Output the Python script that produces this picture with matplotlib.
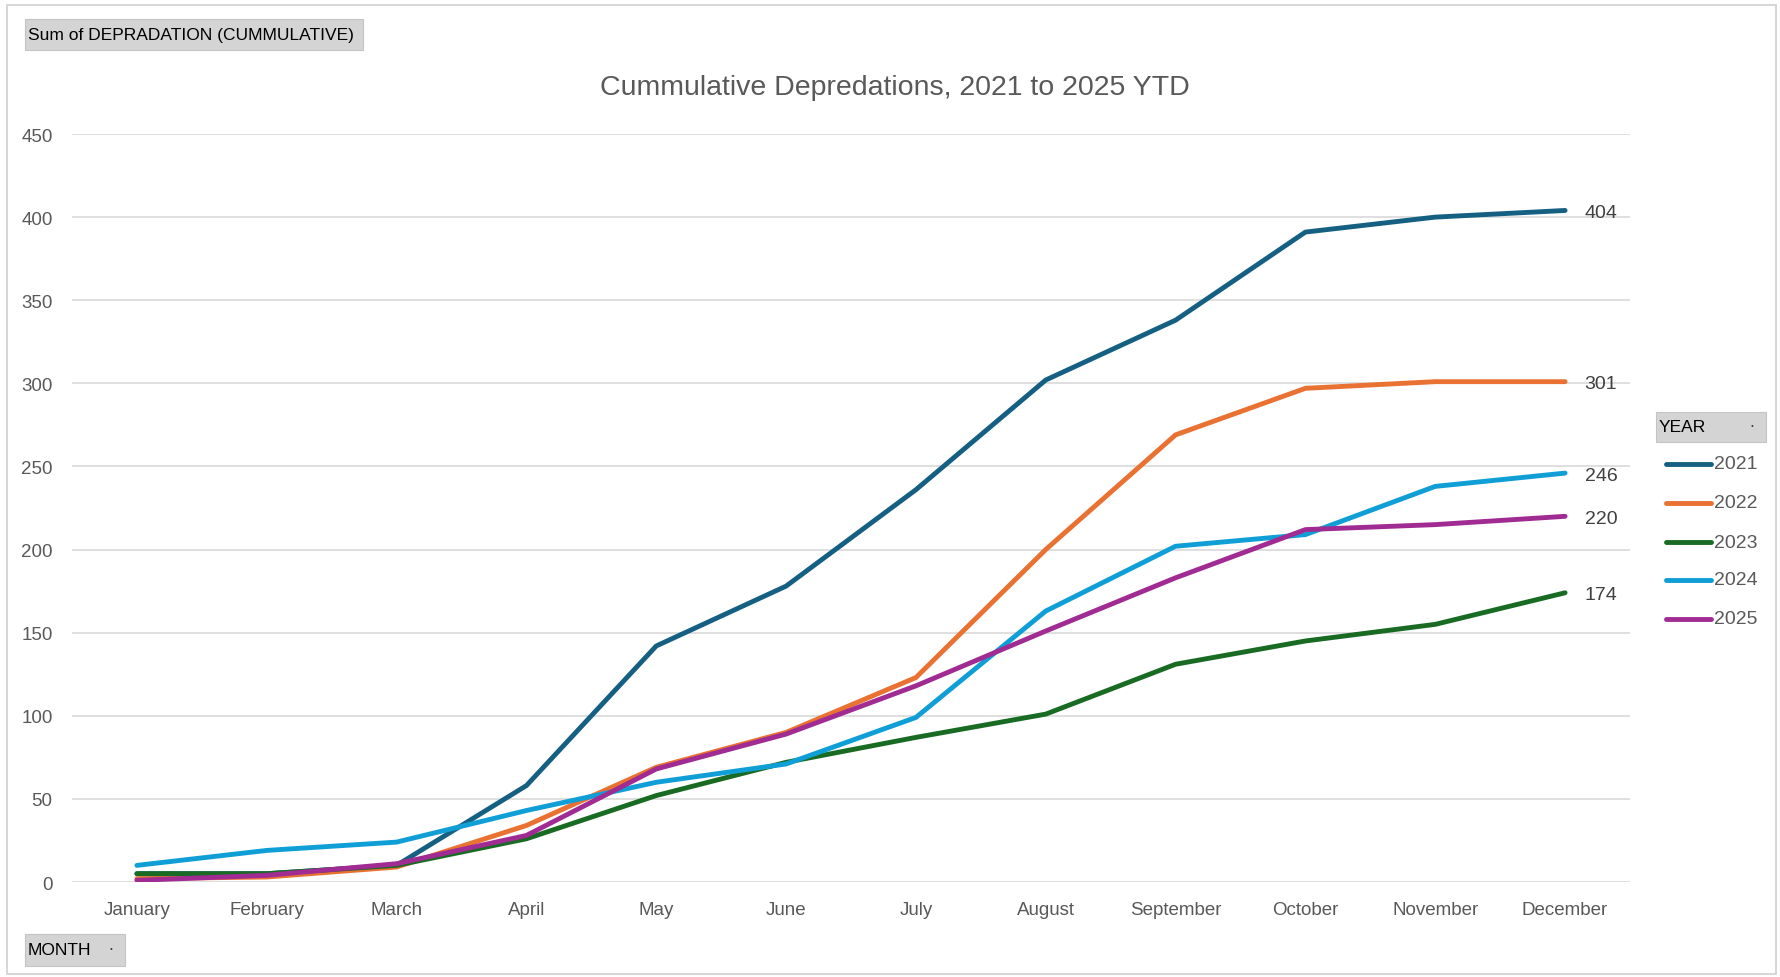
import matplotlib.pyplot as plt
from matplotlib.patches import Rectangle

months = ["January", "February", "March", "April", "May", "June", "July",
          "August", "September", "October", "November", "December"]
years = ["2021", "2022", "2023", "2024", "2025"]

y2021 = [5, 5, 10, 58, 142, 178, 236, 302, 338, 391, 400, 404]
y2022 = [2, 3, 9, 34, 69, 90, 123, 200, 269, 297, 301, 301]
y2023 = [5, 5, 10, 26, 52, 72, 87, 101, 131, 145, 155, 174]
y2024 = [10, 19, 24, 43, 60, 71, 99, 163, 202, 209, 238, 246]
y2025 = [1, 4, 11, 28, 68, 89, 118, 151, 183, 212, 215, 220]
series = [y2021, y2022, y2023, y2024, y2025]
colors = ["#156082", "#E97132", "#196B24", "#0F9ED5", "#A02B93"]

W, H = 1781, 978
fig = plt.figure(figsize=(W / 100, H / 100), dpi=100)
ax = fig.add_axes([72 / W, 1 - 883 / H, (1630 - 72) / W, (883 - 135) / H])

x = range(len(months))
for vals, c in zip(series, colors):
    ax.plot(x, vals, color=c, lw=3.5, solid_capstyle="round", solid_joinstyle="round", zorder=3)
    ax.annotate(str(vals[-1]), (11, vals[-1]), xytext=(14, -1.5), textcoords="offset points",
                va="center", ha="left", fontsize=14, color="#404040", family="Liberation Sans")

ax.set_xlim(-0.5, 11.5)
ax.set_ylim(0, 450)
ax.set_yticks(range(0, 451, 50))
ax.set_xticks(list(x))
ax.set_xticklabels(months)
ax.grid(axis="y", color="#d9d9d9", lw=1.2)
ax.set_axisbelow(True)
for s in ax.spines.values():
    s.set_visible(False)
ax.tick_params(length=0, labelsize=13.5, colors="#595959", pad=14)
ax.tick_params(axis="y", pad=14)
for lab in ax.get_xticklabels() + ax.get_yticklabels():
    lab.set_family("Liberation Sans")

fig.text(895 / W, 1 - 88 / H, "Cummulative Depredations, 2021 to 2025 YTD", ha="center", va="center",
         fontsize=20.5, color="#595959", family="Liberation Sans")

# figure border
fig.patches.append(Rectangle((7 / W, 3 / H), (1776 - 7) / W, (972 - 3) / H, transform=fig.transFigure,
                             fill=False, ec="#d0d0d0", lw=1.2))

# field buttons
def button(x0, y0, x1, y1, text, arrow=False):
    fig.patches.append(Rectangle((x0 / W, 1 - y1 / H), (x1 - x0) / W, (y1 - y0) / H,
                                 transform=fig.transFigure, fc="#d4d4d4", ec="#c4c4c4", lw=0.8))
    fig.text((x0 + 3) / W, 1 - (y0 + y1) / 2 / H, text, ha="left", va="center", fontsize=12.5,
             color="black", family="Liberation Sans")
    if arrow:
        fig.text((x1 - 14) / W, 1 - (y0 + y1) / 2 / H, "·", ha="center", va="center",
                 fontsize=11, color="#404040")

button(25, 20, 363, 51, "Sum of DEPRADATION (CUMMULATIVE)")
button(25, 935, 125, 967, "MONTH", arrow=True)
button(1656, 413, 1766, 443, "YEAR", arrow=True)

# legend
leg_y = [465, 504, 543, 581, 620]
for yr, c, ly in zip(years, colors, leg_y):
    fig.add_artist(plt.Line2D([1666 / W, 1711 / W], [1 - ly / H, 1 - ly / H], color=c, lw=3.5,
                              solid_capstyle="round", transform=fig.transFigure))
    fig.text(1714 / W, 1 - ly / H, yr, ha="left", va="center", fontsize=14, color="#595959",
             family="Liberation Sans")

fig.savefig("out.png", dpi=100)
